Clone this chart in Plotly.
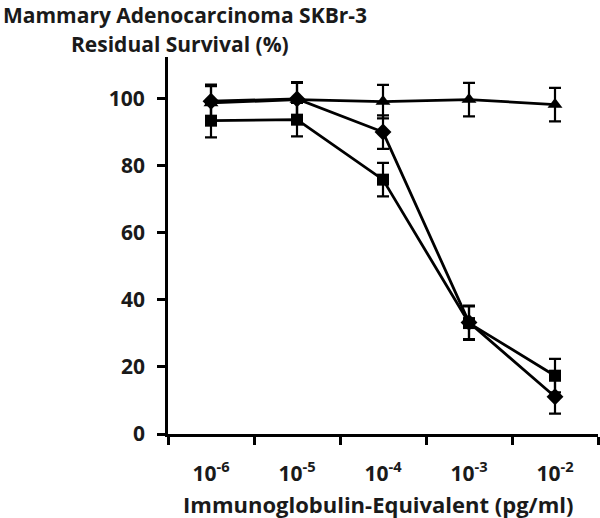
import plotly.graph_objects as go

categories = ["10<sup>-6</sup>", "10<sup>-5</sup>", "10<sup>-4</sup>", "10<sup>-3</sup>", "10<sup>-2</sup>"]
triangle_vals = [98.8, 99.8, 99.2, 99.8, 98.3]
triangle_err = [5, 5, 5, 5, 5]
diamond_vals = [99.3, 100.0, 90.1, 33.3, 11.1]
diamond_err = [5, 5, 5, 5, 5]
square_vals = [93.5, 93.8, 75.9, 33.1, 17.4]
square_err = [5, 5, 5, 5, 5]
y_ticks = [0, 20, 40, 60, 80, 100]

FONT = "Open Sans"
TXT = "#1a1a1a"
L, T, W, H = 168, 57, 430, 377

fig = go.Figure()
for vals, err, sym, size in [
    (square_vals, square_err, "square", 12),
    (diamond_vals, diamond_err, "diamond", 13),
    (triangle_vals, triangle_err, "triangle-up", 13),
]:
    fig.add_trace(go.Scatter(
        x=categories, y=vals, mode="lines+markers",
        line=dict(color="black", width=2.8),
        marker=dict(symbol=sym, size=size, color="black"),
        error_y=dict(type="data", array=err, visible=True, color="black", thickness=2.2, width=6),
        showlegend=False,
    ))

fig.update_layout(
    width=600, height=518,
    margin=dict(l=L, r=600 - L - W, t=T, b=518 - T - H),
    paper_bgcolor="white", plot_bgcolor="white",
    font=dict(family=FONT, color=TXT, size=17),
    xaxis=dict(
        type="category", tickson="boundaries", range=[-0.5, 4.5], automargin=False,
        showline=True, linecolor="black", linewidth=2.8,
        ticks="outside", ticklen=8, tickwidth=2.5, tickcolor="black",
        showgrid=False, zeroline=False, ticklabelstandoff=19,
        tickfont=dict(family=FONT, size=21, color=TXT, weight="bold"),
    ),
    yaxis=dict(
        range=[0, 112.5], tickvals=y_ticks, automargin=False,
        showline=True, linecolor="black", linewidth=2.8,
        ticks="outside", ticklen=8, tickwidth=2.5, tickcolor="black",
        showgrid=False, zeroline=False, ticklabelstandoff=8,
        tickfont=dict(family=FONT, size=21, color=TXT, weight="bold"),
    ),
)

def px_x(p):
    return (p - L) / W

def px_y(p):
    return 1 - (p - T) / H

fig.add_annotation(xref="paper", yref="paper", x=px_x(2), y=px_y(0),
                   xanchor="left", yanchor="top", showarrow=False, borderpad=0,
                   text="Mammary Adenocarcinoma SKBr-3",
                   font=dict(family=FONT, size=21, color=TXT, weight="bold"))
fig.add_annotation(xref="paper", yref="paper", x=px_x(180), y=px_y(44),
                   xanchor="center", yanchor="middle", showarrow=False, borderpad=0,
                   text="Residual Survival (%)",
                   font=dict(family=FONT, size=21, color=TXT, weight="bold"))
fig.add_annotation(xref="paper", yref="paper", x=px_x(378), y=px_y(504),
                   xanchor="center", yanchor="middle", showarrow=False, borderpad=0,
                   text="Immunoglobulin-Equivalent (pg/ml)",
                   font=dict(family=FONT, size=22, color=TXT, weight="bold"))

fig.write_html("out.html", config={"displayModeBar": False},
               post_script="document.body.style.margin='0';document.body.style.overflow='hidden';")
